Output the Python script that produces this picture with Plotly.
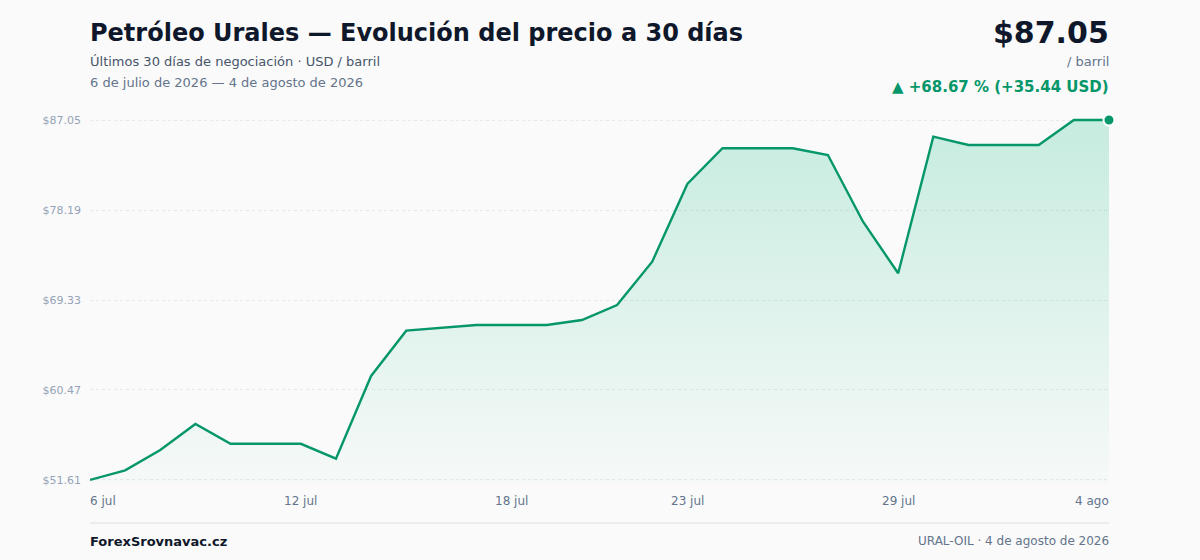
import plotly.graph_objects as go

# Price data (USD / barril), one value per day
dates = [
    "2026-07-06", "2026-07-07", "2026-07-08", "2026-07-09", "2026-07-10",
    "2026-07-11", "2026-07-12", "2026-07-13", "2026-07-14", "2026-07-15",
    "2026-07-16", "2026-07-17", "2026-07-18", "2026-07-19", "2026-07-20",
    "2026-07-21", "2026-07-22", "2026-07-23", "2026-07-24", "2026-07-25",
    "2026-07-26", "2026-07-27", "2026-07-28", "2026-07-29", "2026-07-30",
    "2026-07-31", "2026-08-01", "2026-08-02", "2026-08-03", "2026-08-04",
]
prices = [
    51.61, 52.55, 54.56, 57.12, 55.17, 55.17, 55.17, 53.71, 61.85, 66.31,
    66.62, 66.87, 66.87, 66.87, 67.36, 68.84, 73.10, 80.75, 84.27, 84.27,
    84.27, 83.61, 77.04, 71.96, 85.41, 84.59, 84.59, 84.59, 87.05, 87.05,
]

y_tickvals = [51.61, 60.47, 69.33, 78.19, 87.05]
y_ticktext = ["$51.61", "$60.47", "$69.33", "$78.19", "$87.05"]
x_tickvals = ["2026-07-06", "2026-07-12", "2026-07-18", "2026-07-23", "2026-07-29", "2026-08-04"]
x_ticktext = ["6 jul", "12 jul", "18 jul", "23 jul", "29 jul", "4 ago"]

GREEN = "#059669"
BG = "#fafafa"
FONT = "DejaVu Sans"

W, H = 1200, 560
PAD = 0.3
# plot area in pixels
LEFT, RIGHT = 90, 1109
TOP, BOTTOM = 117, 483


def py(ypix):
    # pixel row -> paper y
    return (BOTTOM - ypix) / (BOTTOM - TOP)


fig = go.Figure()

fig.add_trace(go.Scatter(
    x=dates, y=prices, mode="lines",
    line=dict(color=GREEN, width=2.4),
    fill="tozeroy",
    fillgradient=dict(
        type="vertical",
        start=y_tickvals[0], stop=y_tickvals[-1],
        colorscale=[[0, "rgba(16,185,129,0.02)"], [1, "rgba(16,185,129,0.22)"]],
    ),
    hoverinfo="skip",
))

# last point marker
fig.add_trace(go.Scatter(
    x=[dates[-1]], y=[prices[-1]], mode="markers",
    marker=dict(color=GREEN, size=11, line=dict(color="white", width=2)),
    cliponaxis=False, hoverinfo="skip",
))

annotations = [
    dict(text="<b>Petróleo Urales — Evolución del precio a 30 días</b>", x=0, y=py(33),
         xanchor="left", font=dict(size=24, color="#0f172a")),
    dict(text="Últimos 30 días de negociación · USD / barril", x=0, y=py(61),
         xanchor="left", font=dict(size=13, color="#475569")),
    dict(text="6 de julio de 2026 — 4 de agosto de 2026", x=0, y=py(83),
         xanchor="left", font=dict(size=13, color="#64748b")),
    dict(text="<b>$87.05</b>", x=1, y=py(33), xanchor="right",
         font=dict(size=30, color="#0f172a")),
    dict(text="/ barril", x=1, y=py(61), xanchor="right",
         font=dict(size=13, color="#64748b")),
    dict(text="<b>▲ +68.67 % (+35.44 USD)</b>", x=1, y=py(87), xanchor="right",
         font=dict(size=15, color=GREEN)),
    dict(text="<b>ForexSrovnavac.cz</b>", x=0, y=py(541), xanchor="left",
         font=dict(size=13, color="#0f172a")),
    dict(text="URAL-OIL · 4 de agosto de 2026", x=1, y=py(541), xanchor="right",
         font=dict(size=12, color="#64748b")),
]
for a in annotations:
    a.update(xref="paper", yref="paper", yanchor="middle", showarrow=False,
             xshift=-2 if a["xanchor"] == "left" else 2)

# x tick labels: first left-aligned, last right-aligned
for i, (tv, tt) in enumerate(zip(x_tickvals, x_ticktext)):
    anchor = "left" if i == 0 else ("right" if i == len(x_tickvals) - 1 else "center")
    annotations.append(dict(
        text=tt, x=tv, xref="x", y=py(501), yref="paper", xanchor=anchor,
        xshift={"left": -2, "right": 2}.get(anchor, 0),
        yanchor="middle", showarrow=False, font=dict(size=12, color="#64748b"),
    ))

fig.update_layout(
    width=W, height=H,
    margin=dict(l=LEFT, r=W - RIGHT, t=TOP, b=H - BOTTOM),
    paper_bgcolor=BG, plot_bgcolor=BG,
    font=dict(family=FONT),
    showlegend=False,
    annotations=annotations,
    shapes=[dict(type="line", xref="paper", yref="paper", x0=0, x1=1,
                 y0=py(523), y1=py(523), line=dict(color="#e5e7eb", width=1.5))],
    xaxis=dict(
        type="date", range=[dates[0], dates[-1]],
        showgrid=False, zeroline=False, showline=False, showticklabels=False,
    ),
    yaxis=dict(
        range=[y_tickvals[0] - PAD, y_tickvals[-1] + PAD],
        tickvals=y_tickvals, ticktext=y_ticktext,
        tickfont=dict(size=11, color="#94a3b8"),
        ticklabelstandoff=8,
        showgrid=True, gridcolor="#e5e7eb", griddash="dot", gridwidth=1,
        zeroline=False, showline=False,
    ),
)

# drop the default page margin so the figure fills the window
fig.write_html("out.html", config={"displayModeBar": False},
               post_script="document.body.style.margin='0';"
               "document.body.style.background='" + BG + "';")
